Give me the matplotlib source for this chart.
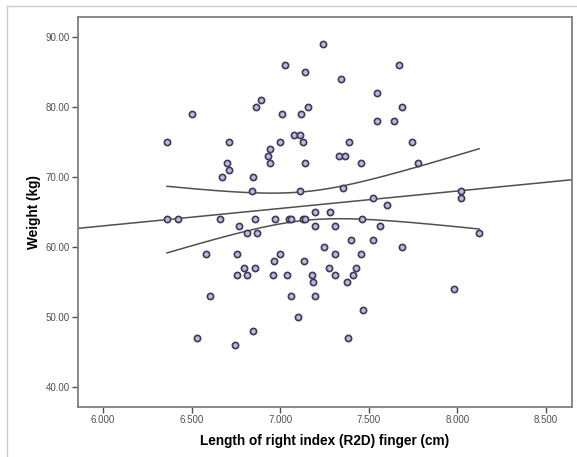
import numpy as np
import matplotlib
matplotlib.use("Agg")
import matplotlib.pyplot as plt
from matplotlib.lines import Line2D

# finger length (cm) and weight (kg)
finger_cm = [
    7.242, 7.026, 7.673, 7.138, 7.343, 7.544, 6.891, 6.862, 7.157, 7.689,
    6.504, 7.012, 7.115, 7.546, 7.642, 7.076, 7.111, 6.361, 6.709, 6.998,
    7.128, 7.389, 7.745, 6.943, 6.931, 7.333, 7.364, 6.699, 6.945, 7.138,
    7.455, 7.779, 6.713, 6.674, 6.846, 6.842, 7.113, 7.356, 8.023, 7.524,
    8.021, 7.604, 7.198, 7.279, 6.361, 6.425, 6.663, 6.860, 6.972, 7.051,
    7.061, 7.128, 7.138, 7.461, 6.767, 7.198, 7.312, 7.565, 6.813, 6.869,
    8.123, 7.248, 7.689, 7.401, 7.524, 6.580, 6.759, 6.999, 7.310, 7.455,
    6.968, 7.132, 6.798, 6.858, 7.275, 7.426, 6.759, 6.815, 6.960, 7.036,
    7.177, 7.312, 7.412, 7.188, 7.376, 7.982, 6.603, 7.061, 7.194, 7.468,
    7.099, 6.846, 6.529, 7.385, 6.746,
]
weight_kg = [
    89, 86, 86, 85, 84, 82, 81, 80, 80, 80,
    79, 79, 79, 78, 78, 76, 76, 75, 75, 75,
    75, 75, 75, 74, 73, 73, 73, 72, 72, 72,
    72, 72, 71, 70, 70, 68, 68, 68.5, 68, 67,
    67, 66, 65, 65, 64, 64, 64, 64, 64, 64,
    64, 64, 64, 64, 63, 63, 63, 63, 62, 62,
    62, 60, 60, 61, 61, 59, 59, 59, 59, 59,
    58, 58, 57, 57, 57, 57, 56, 56, 56, 56,
    56, 56, 56, 55, 55, 54, 53, 53, 53, 51,
    50, 48, 47, 47, 46,
]
x_ticks = [6.0, 6.5, 7.0, 7.5, 8.0, 8.5]
y_ticks = [40, 50, 60, 70, 80, 90]

x = np.array(finger_cm)
y = np.array(weight_kg)

# linear fit with 95% confidence band of the mean
n = len(x)
slope, intercept = np.polyfit(x, y, 1)
resid = y - (slope * x + intercept)
s = np.sqrt(np.sum(resid ** 2) / (n - 2))
sxx = np.sum((x - x.mean()) ** 2)
t_crit = 1.986
xb = np.linspace(x.min(), x.max(), 200)
half = t_crit * s * np.sqrt(1.0 / n + (xb - x.mean()) ** 2 / sxx)
yb = slope * xb + intercept

plt.rcParams['font.family'] = ['Liberation Sans', 'DejaVu Sans']

fig = plt.figure(figsize=(5.77, 4.57), dpi=100)
ax = fig.add_axes([0.1352, 0.1094, 0.8561, 0.8534])

xlim = (5.859, 8.647)
ax.set_xlim(*xlim)
ax.set_ylim(37.14, 92.86)

xl = np.array(xlim)
ax.plot(xl, slope * xl + intercept, color='#505050', lw=1.1, zorder=2)
ax.plot(xb, yb + half, color='#505050', lw=1.1, zorder=2)
ax.plot(xb, yb - half, color='#505050', lw=1.1, zorder=2)

ax.scatter(x, y, s=20, facecolor='#b9b9ec', edgecolor='#3c3c4c',
           linewidths=1.2, zorder=3)

ax.set_xticks(x_ticks)
ax.set_xticklabels(['{:.3f}'.format(v) for v in x_ticks])
ax.set_yticks(y_ticks)
ax.set_yticklabels(['{:.2f}'.format(v) for v in y_ticks])
ax.tick_params(direction='out', length=4, width=1, color='#505050',
               labelsize=7, labelcolor='#505050', pad=2)

for sp in ax.spines.values():
    sp.set_color('#808080')
    sp.set_linewidth(1.3)

ax.set_xlabel('Length of right index (R2D) finger (cm)', fontsize=9.8,
              fontweight='bold', labelpad=6)
ax.set_ylabel('Weight (kg)', fontsize=9.8, fontweight='bold', labelpad=3)

# light outer border (left and top)
fig.add_artist(Line2D([6.5 / 577, 6.5 / 577], [0, 1 - 5.5 / 457],
                      transform=fig.transFigure, color='#cccccc', lw=1))
fig.add_artist(Line2D([6.5 / 577, 1], [1 - 5.5 / 457, 1 - 5.5 / 457],
                      transform=fig.transFigure, color='#cccccc', lw=1))

fig.savefig('out.png', dpi=100)
